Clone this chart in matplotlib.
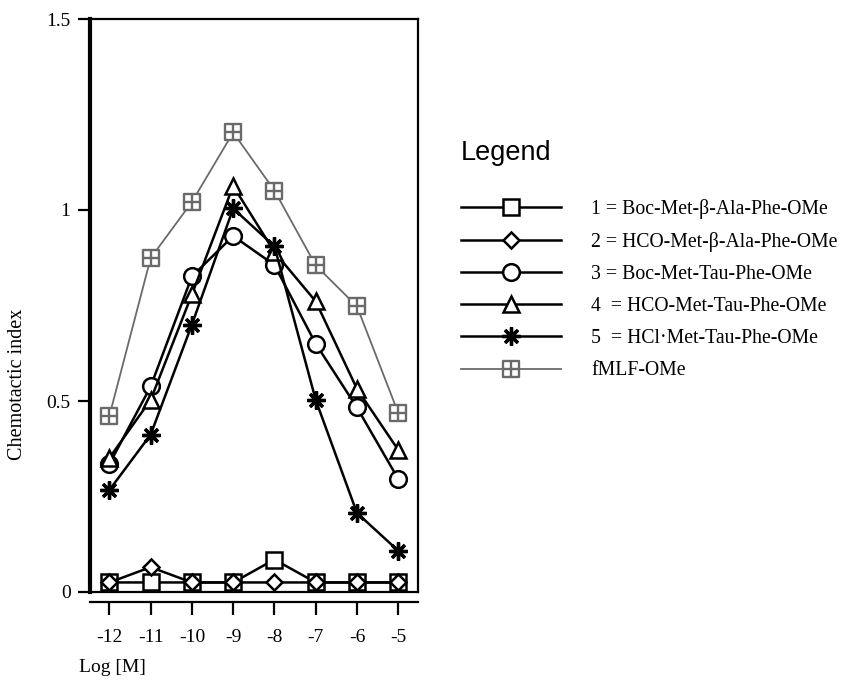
import matplotlib
matplotlib.use("Agg")
import matplotlib.pyplot as plt
from matplotlib.path import Path

# ---- data ----
log_conc = [-12, -11, -10, -9, -8, -7, -6, -5]
x_tick_labels = ["-12", "-11", "-10", "-9", "-8", "-7", "-6", "-5"]
y_ticks = [0, 0.5, 1, 1.5]
y_tick_labels = ["0", "0.5", "1", "1.5"]

s1_boc_bala = [0.025, 0.025, 0.025, 0.025, 0.085, 0.025, 0.025, 0.025]
s2_hco_bala = [0.025, 0.065, 0.025, 0.025, 0.025, 0.025, 0.025, 0.025]
s3_boc_tau = [0.335, 0.538, 0.826, 0.932, 0.856, 0.650, 0.483, 0.296]
s4_hco_tau = [0.351, 0.503, 0.779, 1.063, 0.890, 0.761, 0.532, 0.372]
s5_hcl_tau = [0.267, 0.412, 0.700, 1.004, 0.905, 0.503, 0.207, 0.108]
fmlf_ome = [0.461, 0.874, 1.021, 1.203, 1.051, 0.855, 0.748, 0.469]

labels = [
    "1 = Boc-Met-\u03b2-Ala-Phe-OMe",
    "2 = HCO-Met-\u03b2-Ala-Phe-OMe",
    "3 = Boc-Met-Tau-Phe-OMe",
    "4  = HCO-Met-Tau-Phe-OMe",
    "5  = HCl\u00b7Met-Tau-Phe-OMe",
    "fMLF-OMe",
]

serif = ["Liberation Serif", "DejaVu Serif"]
sans = ["Liberation Sans", "DejaVu Sans"]

# square with a cross inside
boxcross = Path(
    [(-1, -1), (1, -1), (1, 1), (-1, 1), (-1, -1), (0, -1), (0, 1), (-1, 0), (1, 0)],
    [Path.MOVETO, Path.LINETO, Path.LINETO, Path.LINETO, Path.CLOSEPOLY,
     Path.MOVETO, Path.LINETO, Path.MOVETO, Path.LINETO],
)

fig = plt.figure(figsize=(8.58, 6.82), dpi=100)
ax = fig.add_axes([90 / 858, 1 - 592 / 682, (418 - 90) / 858, (592 - 19) / 682])

black = dict(color="black", lw=1.8, mfc="white", mec="black", mew=1.8)
gray = "#6a6a6a"

h1, = ax.plot(log_conc, s1_boc_bala, marker="s", ms=11, zorder=3, **black)
h2, = ax.plot(log_conc, s2_hco_bala, marker="D", ms=8, zorder=4, **black)
h3, = ax.plot(log_conc, s3_boc_tau, marker="o", ms=12, zorder=3, **black)
h4, = ax.plot(log_conc, s4_hco_tau, marker="^", ms=12, zorder=3, **black)
h5, = ax.plot(log_conc, s5_hcl_tau, marker=(8, 2, 0), ms=13, zorder=3,
              color="black", lw=1.8, mec="black", mew=2.4)
h6, = ax.plot(log_conc, fmlf_ome, marker=boxcross, ms=12, color=gray, lw=1.3,
              mfc="white", mec=gray, mew=1.7, zorder=2)
handles = [h1, h2, h3, h4, h5, h6]

ax.set_xlim(-12.47, -4.52)
ax.set_ylim(0, 1.5)

# spines
ax.spines["left"].set_linewidth(3.0)
ax.spines["top"].set_linewidth(1.6)
ax.spines["right"].set_linewidth(1.6)
ax.spines["bottom"].set_position(("outward", 7))
ax.spines["bottom"].set_linewidth(1.6)
ax.axhline(0, color="black", lw=1.6, zorder=1, clip_on=False)

ax.set_yticks(y_ticks)
ax.set_yticklabels(y_tick_labels, fontfamily=serif, fontsize=14)
ax.set_xticks(log_conc)
ax.set_xticklabels(x_tick_labels, fontfamily=serif, fontsize=14)
ax.tick_params(axis="y", direction="out", length=9, width=1.6, pad=5)
ax.tick_params(axis="x", direction="out", length=9, width=1.6, pad=11)

fig.text(112 / 858, 1 - 667 / 682, "Log [M]", ha="center", va="center",
         fontfamily=serif, fontsize=14)
fig.text(18 / 858, 1 - 384 / 682, "Chemotactic index", ha="center", va="center",
         rotation=90, fontfamily=serif, fontsize=14.5)

leg = fig.legend(handles, labels, loc="upper left",
                 bbox_to_anchor=(461 / 858, 1 - 140 / 682),
                 frameon=False, handlelength=5.05, handletextpad=1.55,
                 labelspacing=0.66, numpoints=1,
                 prop={"family": serif, "size": 14.2},
                 title="Legend", title_fontproperties={"family": sans, "size": 19.5},
                 alignment="left", borderaxespad=0, borderpad=0)
leg._legend_box.sep = 24

fig.savefig("out.png", dpi=100)
